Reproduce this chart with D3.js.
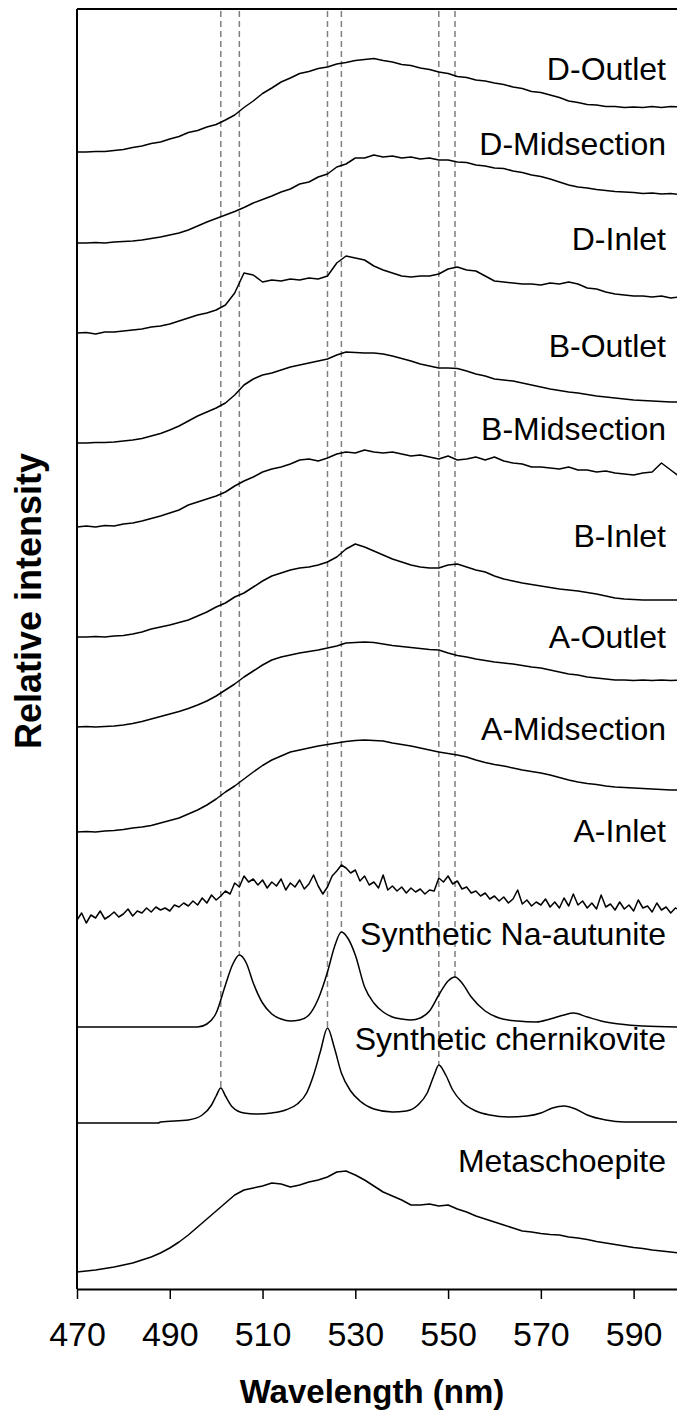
<!DOCTYPE html>
<html lang="en">
<head>
<meta charset="UTF-8">
<script src="https://d3js.org/d3.v7.min.js"></script>
<title>Spectra</title>
<style>
  body { margin: 0; background: #fff; }
  svg text { font-family: "Liberation Sans", Arial, sans-serif; fill: #000; }
</style>
</head>
<body>
<div id="app"></div>
<script>
const svg_width = 677;
const svg_height = 1412;

// common wavelength grid (nm) for the sample spectra
const wavelengths = [
  470, 472, 474, 476, 478, 480, 482, 484, 486, 488, 490,
  492, 494, 496, 498, 500, 502, 504, 506, 508, 510, 512,
  514, 516, 518, 520, 522, 524, 526, 528, 530, 532, 534,
  536, 538, 540, 542, 544, 546, 548, 550, 552, 554, 556,
  558, 560, 562, 564, 566, 568, 570, 572, 574, 576, 578,
  580, 582, 584, 586, 588, 590, 592, 594, 596, 598, 600
];
// 1 nm grid for the noisy A-Inlet spectrum
const fine_wl = [
  470, 471, 472, 473, 474, 475, 476, 477, 478, 479,
  480, 481, 482, 483, 484, 485, 486, 487, 488, 489,
  490, 491, 492, 493, 494, 495, 496, 497, 498, 499,
  500, 501, 502, 503, 504, 505, 506, 507, 508, 509,
  510, 511, 512, 513, 514, 515, 516, 517, 518, 519,
  520, 521, 522, 523, 524, 525, 526, 527, 528, 529,
  530, 531, 532, 533, 534, 535, 536, 537, 538, 539,
  540, 541, 542, 543, 544, 545, 546, 547, 548, 549,
  550, 551, 552, 553, 554, 555, 556, 557, 558, 559,
  560, 561, 562, 563, 564, 565, 566, 567, 568, 569,
  570, 571, 572, 573, 574, 575, 576, 577, 578, 579,
  580, 581, 582, 583, 584, 585, 586, 587, 588, 589,
  590, 591, 592, 593, 594, 595, 596, 597, 598, 599, 600
];

const d_outlet = [
  0, 0, 0.5, 0.5, 1.5, 2.5, 4.5, 6, 8.5, 10, 13,
  15.5, 19.5, 21.5, 25, 27.5, 32, 37, 44.5, 51, 58.5, 64,
  70, 74, 78.5, 80.5, 83.5, 85, 88, 89.5, 91.5, 92.5, 93.5,
  91.5, 90, 87.5, 86.5, 84, 82.5, 80, 78.5, 75.5, 74.5, 72,
  71, 69, 67.5, 65, 63.5, 60.5, 59.5, 57, 54.5, 51, 49.5,
  47.5, 47, 45.5, 45.5, 44.5, 45, 44.5, 45.5, 44.5, 45.5, 45
];
const d_mid = [
  0, 0, 0.5, 0, 1, 1.5, 2, 3, 4.5, 6, 8,
  10, 13, 17, 21, 24.5, 28, 31.5, 35.5, 40, 43.5, 47,
  51, 54, 59, 61, 66, 69, 76, 79, 85, 85, 88,
  86, 87, 85, 86, 84, 85, 83, 83, 81, 80.5, 78,
  77, 75, 74.5, 72, 70.5, 68, 66.5, 64, 61, 58, 56,
  55, 53.5, 52.5, 51.5, 51, 50.5, 49.5, 50, 49, 49.5, 48.5
];
const d_inlet = [
  0, 0.5, -1, 1, 1, 2, 3, 4, 6, 7, 9,
  12, 15, 18, 20, 23, 28, 40, 60, 58, 51, 53,
  52, 54, 53, 55, 54, 57, 70, 77, 75, 73, 67,
  63, 60, 57, 56, 57, 57, 59, 64, 66, 63, 62,
  57, 52, 51, 50, 49, 49, 48, 50, 49, 51, 49,
  45, 44, 41, 39, 38, 37, 37, 36, 37, 35, 36
];
const b_outlet = [
  0, 0, 0.5, 0.5, 1, 2, 3, 4.5, 7, 9.5, 13,
  17, 22, 27, 31, 35, 40, 48, 58, 64, 68, 70,
  73, 76, 78, 80, 82, 84, 88, 91, 90.5, 90, 90,
  89, 87, 84.5, 82, 79, 77, 75, 75, 74.5, 72, 69,
  67, 64, 63, 62, 60, 58, 56, 54, 52.5, 51, 50,
  48.5, 47, 46, 45, 44, 43, 42.5, 42, 41.5, 41, 41
];
const b_mid = [
  0, 1, 0, 1.5, 1, 3, 4, 6, 8.5, 11, 14,
  17, 22, 25, 28, 31, 35, 41, 46, 50, 55, 58,
  60, 63, 67, 68, 66, 69, 73, 75, 74, 77, 75,
  74, 75, 73, 71, 72, 70, 68, 71, 67, 68, 70,
  67, 70, 66, 64, 63, 60, 60, 59, 58, 60, 57,
  57, 55, 56, 54, 53, 52, 54, 55, 64, 57, 50
];
const b_inlet = [
  0, 0, 0.5, 0, 1, 1.5, 3, 5, 8, 10, 12,
  14.5, 17, 21, 25, 30, 34, 40, 44, 50, 56, 61,
  64, 67, 69, 70, 72, 75, 80, 88, 93, 90, 86,
  82, 78, 75, 72, 70, 69, 69, 72, 73, 70, 67,
  65, 61, 58, 56, 54, 52.5, 51, 49.5, 48, 47, 46,
  44.5, 43, 41, 39, 38, 37.5, 37, 37, 37, 37, 37
];
const a_outlet = [
  0, 0.5, 0, 0.5, 1, 2, 3.5, 5.5, 8, 10.5, 13,
  15.5, 18.5, 22, 26, 31, 37, 43, 50, 56, 62, 67,
  70, 72, 74, 75.5, 77, 79, 81, 84, 84.5, 85, 84.5,
  83, 81.5, 80.5, 79.5, 78.5, 77.5, 77, 74, 71.5, 70, 68,
  66.5, 65, 64, 63, 61.5, 60, 59, 57, 55, 53, 52,
  50, 49, 48, 47, 47, 46.5, 47, 46.5, 47, 46.5, 47
];
const a_mid = [
  0, 0.5, 0, 1, 1.5, 2.5, 4, 5, 6.5, 9, 11.5,
  14, 18, 22, 27, 33, 40, 46, 53, 60, 66.5, 72,
  76, 80, 82, 84, 86, 87.5, 89, 90.5, 91.5, 92, 91.5,
  91, 89, 87.5, 86, 84, 82, 80, 78.5, 77, 75, 72,
  69.5, 67.5, 66, 64, 62, 60.5, 59, 57, 54.5, 52, 50,
  48.5, 47.5, 46, 45, 44.5, 44, 43.5, 43, 42.5, 42, 42
];
const a_inlet = [
  0, 7, -3, 5, 2, 9, 1, 4, 8, 3,
  6, 11, 4, 9, 7, 12, 8, 13, 10, 12,
  9, 15, 13, 17, 14, 19, 15, 22, 17, 25,
  20, 24, 29, 26, 37, 33, 44, 38, 41, 35,
  40, 32, 38, 34, 41, 30, 37, 33, 40, 31,
  36, 45, 34, 26, 33, 44, 49, 55, 52, 47,
  50, 39, 44, 35, 38, 32, 45, 30, 34, 29,
  33, 27, 32, 28, 31, 26, 30, 29, 42, 38,
  44, 36, 39, 31, 33, 27, 29, 24, 27, 21,
  24, 19, 23, 17, 21, 30, 16, 20, 14, 18,
  15, 21, 13, 18, 12, 22, 14, 26, 15, 19,
  12, 17, 11, 25, 13, 16, 10, 18, 11, 15,
  9, 20, 12, 14, 8, 17, 10, 13, 7, 12, 10
];
const metaschoepite = [
  0, 1, 2, 3.5, 5, 7, 9, 12, 15, 19, 24,
  30, 37, 45, 53, 61, 69, 77, 82, 84, 86, 89,
  88, 85, 87, 90, 92, 95, 100, 101, 97, 92, 86,
  80, 76, 72, 67, 67, 68, 66, 67, 63, 60, 56,
  53, 50, 47, 44, 41, 40, 38.5, 37.5, 37, 35, 34,
  32.5, 30.5, 29, 27.5, 26, 24.5, 23.5, 22, 21, 20, 19
];

// reference spectra, sampled more finely round the peaks
const na_wl = [
  470, 480, 490, 496, 498, 500, 502, 503.5, 505, 506.5,
  508, 510, 512, 514, 516, 518, 520, 522, 524, 525.5,
  527, 528.5, 530, 532, 534, 536, 538, 540, 542, 544,
  546, 548, 550, 551.5, 553, 555, 558, 561, 565, 569,
  572, 575, 577, 580, 583, 587, 592, 600
];
const na_autunite = [
  0, 0, 0, 0, 3, 14, 42, 62, 72, 64,
  44, 24, 13, 8, 6, 7, 12, 28, 55, 80,
  95, 88, 72, 40, 24, 15, 10, 8, 7, 9,
  16, 32, 46, 50, 44, 30, 16, 9, 6, 5,
  8, 12, 14, 10, 6, 3, 1, 0
];
const ch_wl = [
  470, 480, 487.5, 488, 494, 497, 499, 500, 501, 502,
  503.5, 506, 509, 512, 515, 517.5, 519.5, 521, 522.5, 524,
  525.5, 527, 529, 531, 534, 538, 541, 543.5, 545.5, 547,
  548, 549.5, 551, 553, 556, 559, 563, 567, 570, 572.5,
  575, 577.5, 580, 584, 588, 600
];
const chernikovite = [
  0, 0, 0, 1, 3, 8, 18, 27, 35, 27,
  16, 10, 9, 10, 13, 19, 30, 48, 72, 95,
  75, 50, 32, 22, 14, 11, 12, 18, 30, 48,
  58, 48, 33, 21, 12, 8, 6, 7, 10, 15,
  17, 14, 8, 3, 1, 1
];

const names = ['D-Outlet', 'D-Midsection', 'D-Inlet', 'B-Outlet', 'B-Midsection', 'B-Inlet',
  'A-Outlet', 'A-Midsection', 'A-Inlet', 'Synthetic Na-autunite', 'Synthetic chernikovite', 'Metaschoepite'];
// vertical shift of each trace
const offsets = [1137, 1046, 956, 846, 762, 652, 562, 457, 369, 262, 166, 17];
// where each name sits (same units as the y scale)
const label_y = [1209, 1134, 1039, 932, 849, 742, 641, 549, 447, 344, 239, 117];

const x_ticks = [470, 490, 510, 530, 550, 570, 590];
const peak_lines = [501, 505, 524, 527, 548, 551.5];
const peak_refs = ['ch', 'na', 'ch', 'na', 'ch', 'na'];

const series_x = [wavelengths, wavelengths, wavelengths, wavelengths, wavelengths, wavelengths,
  wavelengths, wavelengths, fine_wl, na_wl, ch_wl, wavelengths];
const series_y = [d_outlet, d_mid, d_inlet, b_outlet, b_mid, b_inlet,
  a_outlet, a_mid, a_inlet, na_autunite, chernikovite, metaschoepite];

var spectra = names.map(function (n, i) {
  var pts = series_x[i].map(function (w, j) { return [w, series_y[i][j]]; });
  return { name: n, off: offsets[i], pts: pts, smooth: i === 9 || i === 10 };
});

const margin = { left: 77, right: -3, top: 9, bottom: 123 };

var svg = d3.select('#app').append('svg')
  .attr('width', svg_width)
  .attr('height', svg_height);

var x_scale = d3.scaleLinear()
  .domain([470, 600])
  .range([margin.left, svg_width - margin.right]);
var y_scale = d3.scaleLinear()
  .domain([0, 1280])
  .range([svg_height - margin.bottom, margin.top]);

// dashed guide lines down to the peaks of the reference spectra
var ref_of = { na: spectra[9], ch: spectra[10] };
svg.append('g').selectAll('line')
  .data(peak_lines)
  .enter().append('line')
  .attr('x1', function (d) { return x_scale(d); })
  .attr('x2', function (d) { return x_scale(d); })
  .attr('y1', margin.top + 2)
  .attr('y2', function (d, i) {
    var s = ref_of[peak_refs[i]];
    var p = s.pts.find(function (q) { return q[0] === d; });
    return y_scale(s.off + p[1]);
  })
  .attr('stroke', '#808080')
  .attr('stroke-width', 1.5)
  .attr('stroke-dasharray', '6,4');

var line_raw = d3.line()
  .x(function (d) { return x_scale(d[0]); });

svg.append('g').selectAll('path')
  .data(spectra)
  .enter().append('path')
  .attr('d', function (s) {
    return line_raw
      .y(function (d) { return y_scale(s.off + d[1]); })
      .curve(s.smooth ? d3.curveMonotoneX : d3.curveLinear)(s.pts);
  })
  .attr('fill', 'none')
  .attr('stroke', '#000')
  .attr('stroke-width', 1.5)
  .attr('stroke-linejoin', 'round');

svg.append('g').selectAll('text')
  .data(names)
  .enter().append('text')
  .attr('x', 666)
  .attr('y', function (d, i) { return y_scale(label_y[i]); })
  .attr('text-anchor', 'end')
  .style('font-size', '32px')
  .text(function (d) { return d; });

// frame: left and top edges
svg.append('line')
  .attr('x1', margin.left).attr('x2', margin.left)
  .attr('y1', margin.top).attr('y2', y_scale(0))
  .attr('stroke', '#000').attr('stroke-width', 2);
svg.append('line')
  .attr('x1', margin.left).attr('x2', svg_width)
  .attr('y1', margin.top).attr('y2', margin.top)
  .attr('stroke', '#000').attr('stroke-width', 2);

var x_axis = d3.axisBottom(x_scale)
  .tickValues(x_ticks)
  .tickSize(10)
  .tickSizeOuter(0)
  .tickPadding(23);
var gx = svg.append('g')
  .attr('transform', 'translate(0,' + y_scale(0) + ')')
  .call(x_axis);
gx.select('.domain').attr('stroke-width', 2);
gx.selectAll('.tick line').attr('stroke-width', 1.5);
gx.selectAll('.tick text')
  .style('font-size', '34px')
  .style('font-family', '"Liberation Sans", Arial, sans-serif');

svg.append('text')
  .attr('x', 372)
  .attr('y', 1403)
  .attr('text-anchor', 'middle')
  .style('font-size', '33px')
  .style('font-weight', 'bold')
  .text('Wavelength (nm)');

svg.append('text')
  .attr('transform', 'translate(41,601) rotate(-90)')
  .attr('text-anchor', 'middle')
  .style('font-size', '36px')
  .style('font-weight', 'bold')
  .text('Relative intensity');
</script>
</body>
</html>
